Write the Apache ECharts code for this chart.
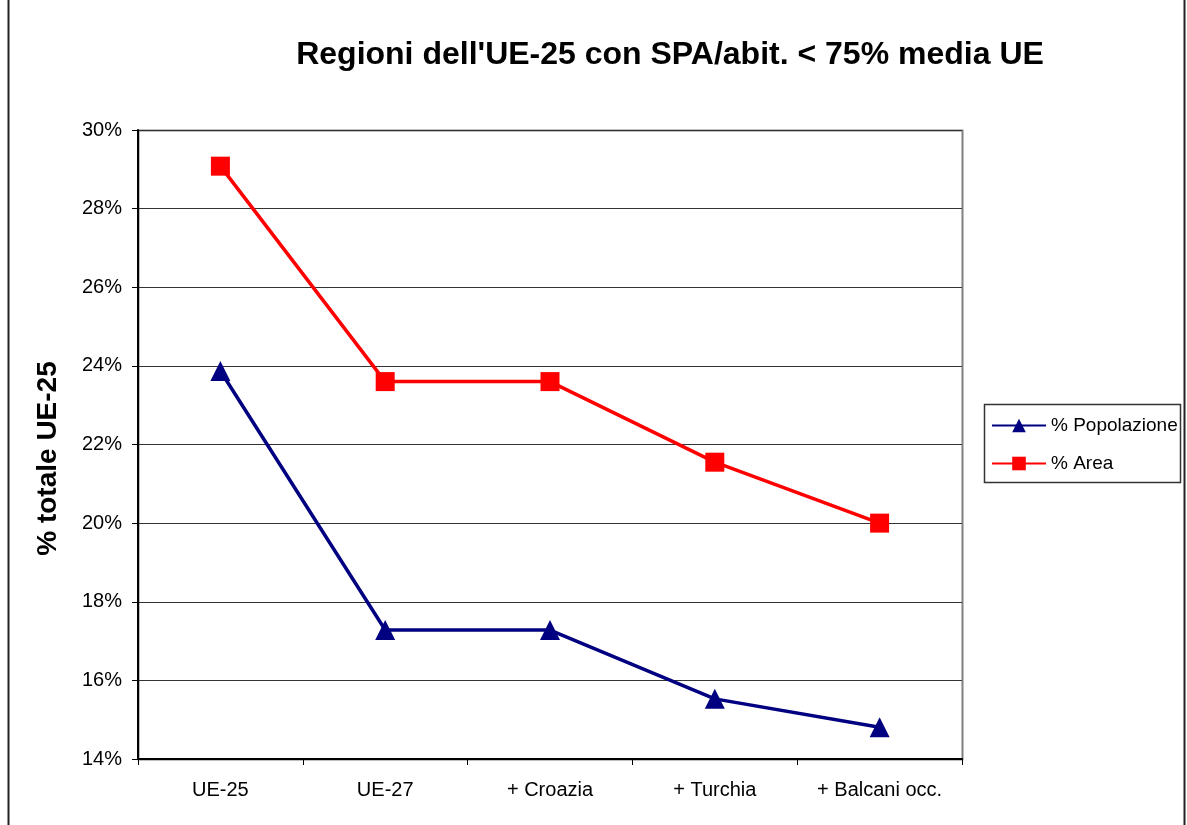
<!DOCTYPE html>
<html>
<head>
<meta charset="utf-8">
<script src="https://cdn.jsdelivr.net/npm/echarts@6/dist/echarts.min.js"></script>
<style>
  html, body { margin: 0; padding: 0; background: #fff; }
  #chart { width: 1187px; height: 825px; }
</style>
</head>
<body>
<div id="chart"></div>
<script>
// categorie asse x
const categories = ["UE-25", "UE-27", "+ Croazia", "+ Turchia", "+ Balcani occ."];
// valori in %
const popolazione = [23.87, 17.28, 17.28, 15.53, 14.81];
const area = [29.08, 23.6, 23.6, 21.55, 20.0];

const myChart = echarts.init(document.getElementById("chart"));

const option = {
  backgroundColor: "#fff",
  animation: false,
  title: {
    text: "Regioni dell'UE-25 con SPA/abit. < 75% media UE",
    left: 665,
    textAlign: "center",
    top: 34,
    textStyle: {
      fontFamily: "Liberation Sans, Arial",
      fontSize: 32,
      fontWeight: "bold",
      color: "#000"
    }
  },
  graphic: [
    {
      type: "rect",
      shape: { x: 8.5, y: -5, width: 1176, height: 840 },
      style: { fill: "none", stroke: "#222", lineWidth: 2 },
      silent: true
    },
    {
      // bordo dell'area del grafico (alto e destra)
      type: "rect",
      shape: { x: 138.5, y: 130.5, width: 824, height: 629 },
      style: { fill: "none", stroke: "#808080", lineWidth: 2 },
      silent: true,
      z: -1
    },
    {
      // riquadro legenda
      type: "rect",
      shape: { x: 984.5, y: 404.5, width: 196, height: 78 },
      style: { fill: "#fff", stroke: "#333", lineWidth: 1.5 },
      silent: true,
      z: 0
    }
  ],
  grid: {
    left: 138,
    top: 130,
    right: 225,
    bottom: 66,
    containLabel: false
  },
  legend: {
    orient: "vertical",
    left: 986,
    top: 411,
    itemWidth: 54,
    itemHeight: 17,
    itemGap: 19,
    z: 5,
    textStyle: {
      fontFamily: "Liberation Sans, Arial",
      fontSize: 19,
      color: "#000"
    },
    data: ["% Popolazione", "% Area"]
  },
  xAxis: {
    type: "category",
    data: categories,
    boundaryGap: true,
    axisLine: { lineStyle: { color: "#000", width: 2 } },
    axisTick: { show: true, length: 6, interval: 0, lineStyle: { color: "#000" } },
    axisLabel: {
      interval: 0,
      margin: 21,
      fontFamily: "Liberation Sans, Arial",
      fontSize: 20,
      color: "#000"
    },
    splitLine: { show: false }
  },
  yAxis: {
    type: "value",
    min: 14,
    max: 30,
    interval: 2,
    name: "% totale UE-25",
    nameLocation: "middle",
    nameGap: 76,
    nameRotate: 90,
    nameTextStyle: {
      fontFamily: "Liberation Sans, Arial",
      fontSize: 28,
      fontWeight: "bold",
      color: "#000",
      padding: [0, 28, 0, 0]
    },
    axisLine: { show: true, lineStyle: { color: "#000", width: 2 } },
    axisTick: { show: true, length: 6, lineStyle: { color: "#000" } },
    axisLabel: {
      formatter: "{value}%",
      margin: 16,
      fontFamily: "Liberation Sans, Arial",
      fontSize: 20,
      color: "#000"
    },
    splitLine: { show: true, lineStyle: { color: "#333", width: 1 } }
  },
  series: [
    {
      name: "% Popolazione",
      type: "line",
      data: popolazione,
      symbol: "triangle",
      symbolSize: 20,
      lineStyle: { color: "#000080", width: 3.5 },
      itemStyle: { color: "#000080" }
    },
    {
      name: "% Area",
      type: "line",
      data: area,
      symbol: "rect",
      symbolSize: 19,
      lineStyle: { color: "#ff0000", width: 3.5 },
      itemStyle: { color: "#ff0000" }
    }
  ]
};

myChart.setOption(option);
</script>
</body>
</html>
